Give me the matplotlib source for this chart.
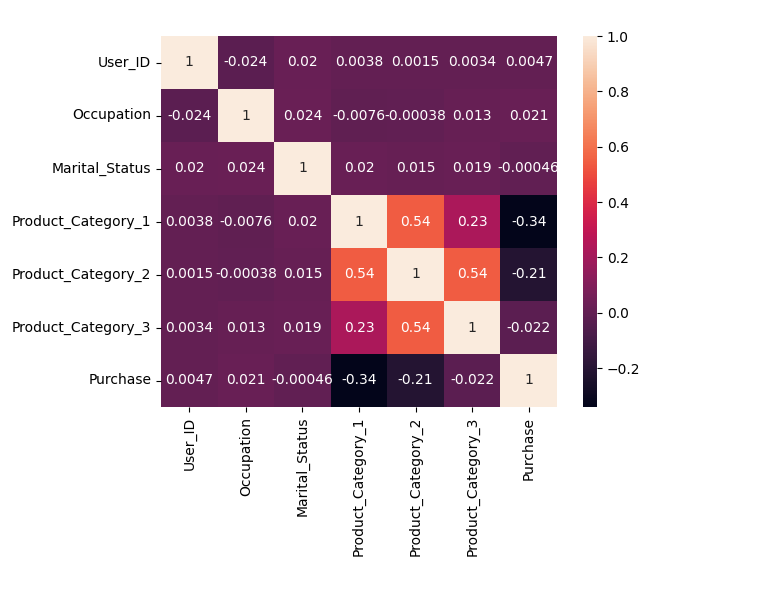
import matplotlib
matplotlib.use("Agg")
import matplotlib.pyplot as plt
import seaborn as sns
import numpy as np
import pandas as pd

labels = ["User_ID", "Occupation", "Marital_Status", "Product_Category_1",
          "Product_Category_2", "Product_Category_3", "Purchase"]

row_user = [1, -0.024, 0.02, 0.0038, 0.0015, 0.0034, 0.0047]
row_occ = [-0.024, 1, 0.024, -0.0076, -0.00038, 0.013, 0.021]
row_mar = [0.02, 0.024, 1, 0.02, 0.015, 0.019, -0.00046]
row_pc1 = [0.0038, -0.0076, 0.02, 1, 0.54, 0.23, -0.34]
row_pc2 = [0.0015, -0.00038, 0.015, 0.54, 1, 0.54, -0.21]
row_pc3 = [0.0034, 0.013, 0.019, 0.23, 0.54, 1, -0.022]
row_pur = [0.0047, 0.021, -0.00046, -0.34, -0.21, -0.022, 1]

corr = pd.DataFrame([row_user, row_occ, row_mar, row_pc1, row_pc2, row_pc3, row_pur],
                    index=labels, columns=labels)

fig = plt.figure(figsize=(7.63, 5.99), dpi=100)
ax = fig.add_axes([161/763, 1-407/599, (557-161)/763, (407-36)/599])
cax = fig.add_axes([583/763, 1-407/599, 14/763, (407-36)/599])
sns.heatmap(corr, annot=True, ax=ax, cbar_ax=cax)
ax.set_xticklabels(labels, rotation=90)
ax.set_yticklabels(labels, rotation=0)
fig.savefig("out.png", dpi=100)
